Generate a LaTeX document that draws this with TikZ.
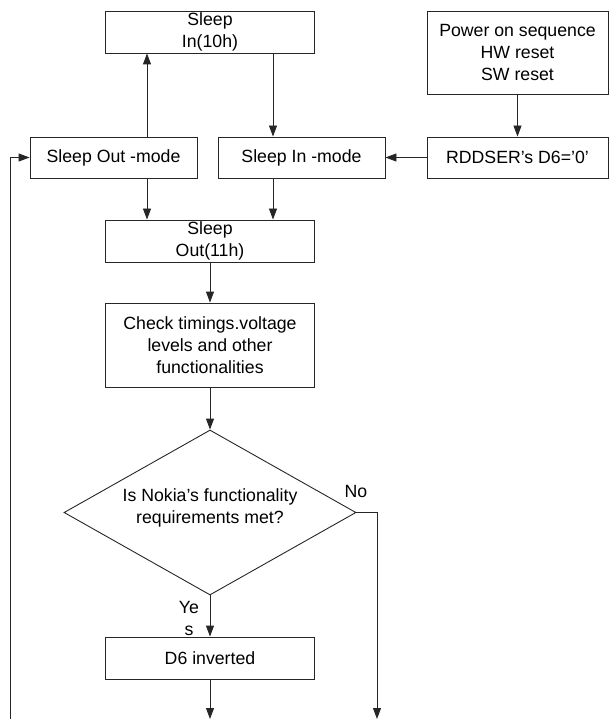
\documentclass[tikz,border=0pt]{standalone}
\usepackage{fontspec}
\setmainfont{Liberation Sans}
\usepackage{tikz}
\usetikzlibrary{
	shapes.geometric,
	arrows.meta,
	positioning,
	calc
}

\begin{document}
\begin{tikzpicture}[x=1pt, y=-1pt,
    box/.style={draw=black!85, line width=0.9pt, align=center, inner sep=0pt,
        font=\fontsize{17.7}{22}\selectfont},
    decision/.style={draw=black!85, line width=0.9pt, diamond, inner sep=0pt,
        minimum width=292pt, minimum height=165pt},
    flow/.style={draw=black!85, line width=0.9pt, -{Triangle[length=11pt,width=8pt]}},
    lbl/.style={font=\fontsize{17.7}{22}\selectfont, inner sep=0pt, align=center}
]
\useasboundingbox (0,0) rectangle (609,719);

% Columns of the vertical connectors
\coordinate (lcol) at (147,0);
\coordinate (rcol) at (273,0);

% Top row
\node[box, minimum width=209pt, minimum height=42pt] (sleepin) at (210,32) {Sleep\\In(10h)};
\node[box, minimum width=181pt, minimum height=83pt] (power) at (517.5,52.5) {Power on sequence\\HW reset\\SW reset};

% Mode row
\node[box, minimum width=167pt, minimum height=41pt] (outmode) at (113.5,157.5) {Sleep Out -mode};
\node[box, minimum width=167pt, minimum height=41pt] (inmode) at (301.5,157.5) {Sleep In -mode};
\node[box, minimum width=181pt, minimum height=41pt] (rddser) at (517.5,157.5) {RDDSER's D6='0'};

% Main column
\node[box, minimum width=209pt, minimum height=42pt] (sleepout) at (210,241) {Sleep\\Out(11h)};
\node[box, minimum width=209pt, minimum height=84pt] (check) at (210,345) {Check timings.voltage\\levels and other\\functionalities};
\node[decision] (decide) at (210,512.5) {};
\node[lbl] (question) at (210,508) {Is Nokia's functionality\\requirements met?};
\node[box, minimum width=209pt, minimum height=42pt] (inverted) at (210,658) {D6 inverted};

% Branch labels
\node[lbl] (no) at (356,491) {No};
\node[lbl] (yes) at (189,618) {Ye\\s};

% Free ends
\coordinate (nocorner) at (377,512.5);
\coordinate (noend) at (377,719);
\coordinate (yesend) at (210,719);
\coordinate (loopstart) at (10,719);
\coordinate (loopcorner) at (10,157.5);

% Connectors
\draw[flow] (outmode.north -| lcol) -- (sleepin.south -| lcol);
\draw[flow] (sleepin.south -| rcol) -- (inmode.north -| rcol);
\draw[flow] (power) -- (rddser);
\draw[flow] (rddser) -- (inmode);
\draw[flow] (outmode.south -| lcol) -- (sleepout.north -| lcol);
\draw[flow] (inmode.south -| rcol) -- (sleepout.north -| rcol);
\draw[flow] (sleepout) -- (check);
\draw[flow] (check) -- (decide);
\draw[flow] (decide) -- (inverted);
\draw[flow] (inverted) -- (yesend);
\draw[flow] (decide.east) -- (nocorner) -- (noend);
\draw[flow] (loopstart) -- (loopcorner) -- (outmode);

\end{tikzpicture}
\end{document}
